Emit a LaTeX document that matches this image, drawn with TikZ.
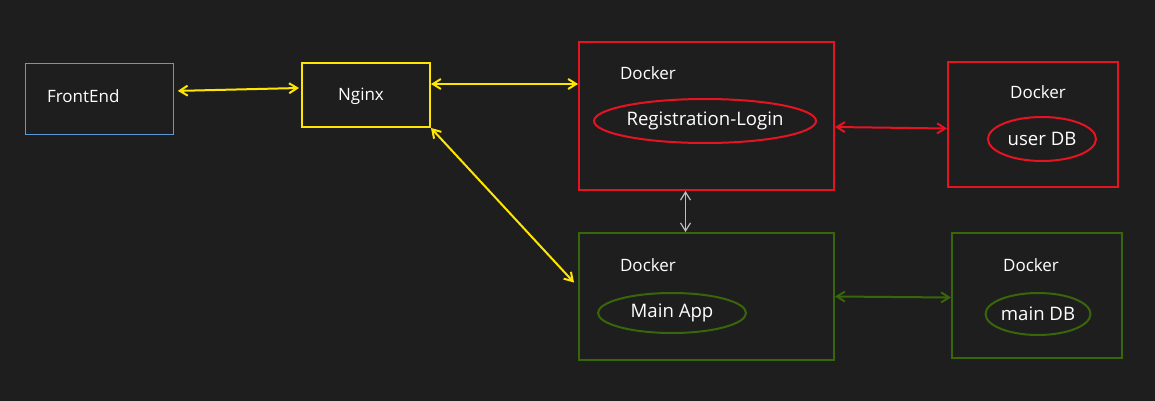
\documentclass[tikz,border=0pt]{standalone}
\usepackage{fontspec}
\setmainfont{Open Sans}
\usetikzlibrary{arrows.meta,shapes.geometric,positioning}
\definecolor{bg}{RGB}{31,30,30}
\definecolor{feblue}{RGB}{91,155,213}
\definecolor{ngyellow}{RGB}{255,230,0}
\definecolor{dkred}{RGB}{230,20,35}
\definecolor{dkgreen}{RGB}{56,102,10}
\definecolor{linkgray}{RGB}{190,190,190}
\begin{document}
\begin{tikzpicture}[x=0.5pt,y=-0.5pt,>={Straight Barb[length=4pt,width=5pt]},
  font=\fontsize{8.5}{10}\selectfont,text=white]
  \tikzstyle{box}=[rectangle,anchor=north west,inner sep=0pt]
  \tikzstyle{db}=[ellipse,inner sep=0pt,line width=1pt,font=\fontsize{9.3}{11}\selectfont]
  \tikzstyle{link}=[<->,line width=1pt]

  \fill[bg] (0,0) rectangle (1155,401);

  \node[box,draw=feblue,minimum width=74pt,minimum height=35.5pt] (fe) at (25,63) {};
  \node[anchor=west] at (40,96) {FrontEnd};
  \node[box,draw=ngyellow,line width=1pt,minimum width=64pt,minimum height=32pt] (nginx) at (301,62) {};
  \node at (361,96) {Nginx};

  \node[box,draw=dkred,line width=1pt,minimum width=127.5pt,minimum height=74pt] (reg) at (578,41) {};
  \node at (648,73) {Docker};
  \node[db,draw=dkred,minimum width=106pt,minimum height=22pt] (regapp) at (705,121) {Registration-Login};

  \node[box,draw=dkred,line width=1pt,minimum width=85pt,minimum height=62.5pt] (user) at (947,61) {};
  \node at (1038,92) {Docker};
  \node[db,draw=dkred,minimum width=54pt,minimum height=22pt] (userdb) at (1042,139) {user DB};

  \node[box,draw=dkgreen,line width=1pt,minimum width=127.5pt,minimum height=63.5pt] (main) at (578,232) {};
  \node at (648,265) {Docker};
  \node[db,draw=dkgreen,minimum width=74pt,minimum height=20pt] (mainapp) at (672,313) {Main App\hspace{5pt}};

  \node[box,draw=dkgreen,line width=1pt,minimum width=85pt,minimum height=62.5pt] (mdb) at (951,232) {};
  \node at (1031,265) {Docker};
  \node[db,draw=dkgreen,minimum width=52pt,minimum height=21pt] (maindb) at (1038,314) {main DB};

  \draw[link,ngyellow] ([xshift=2pt,yshift=4pt]fe.east) -- ([xshift=-1pt,yshift=3.5pt]nginx.west);
  \draw[link,ngyellow] ([yshift=5.5pt]nginx.east) -- ([yshift=16pt]reg.west);
  \draw[link,ngyellow] (nginx.south east) -- ([xshift=-2pt,yshift=7pt]main.west);
  \draw[link,dkred] ([yshift=-5.5pt]reg.east) -- ([yshift=-2pt]user.west);
  \draw[<->,linkgray,line width=0.6pt] ([xshift=-10.5pt]reg.south) -- ([xshift=-10.5pt]main.north);
  \draw[link,dkgreen] (main.east) -- ([yshift=-1pt]mdb.west);
\end{tikzpicture}
\end{document}
